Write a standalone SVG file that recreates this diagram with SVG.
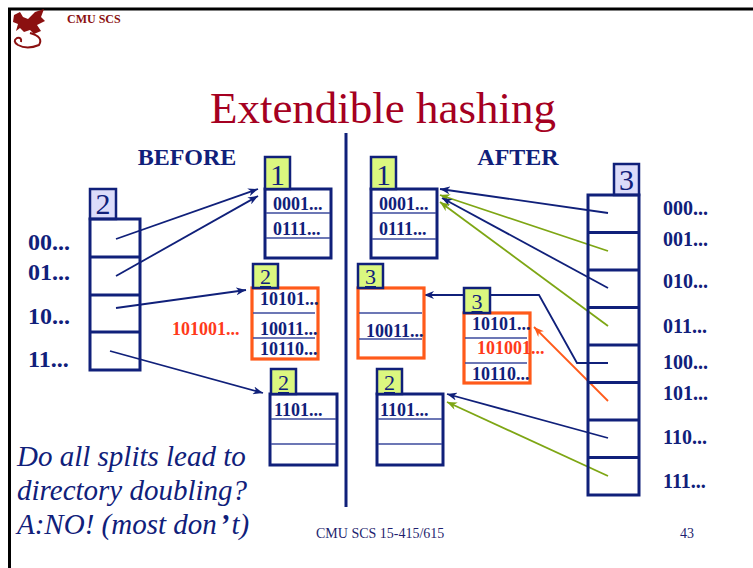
<svg xmlns="http://www.w3.org/2000/svg" width="753" height="568" viewBox="0 0 753 568">
<style>
.nv{stroke:#10207a;fill:none}
.box{stroke:#10207a;stroke-width:3;fill:#fff}
.obox{stroke:#ff5a1a;stroke-width:3.2;fill:#fff}
.gl{stroke:#10207a;stroke-width:2.5;fill:#dbf77f}
.ll{stroke:#10207a;stroke-width:2.5;fill:#dcdcfa}
.sep{stroke:#3b4a9c;stroke-width:1.5}
.div{stroke:#10207a;stroke-width:3}
.t{font-family:"Liberation Serif","Times New Roman",serif;fill:#10207a}
.b{font-weight:bold}
.bk{font-size:18px;font-weight:bold}
.dig{font-size:30px;text-anchor:middle}
.sdig{font-size:22px;text-anchor:middle;text-decoration:underline}
.red{fill:#ff3a1a}
.an{stroke:#10207a;stroke-width:1.8;fill:none}
.ag{stroke:#7ea614;stroke-width:1.8;fill:none}
.ao{stroke:#ff5a1a;stroke-width:1.8;fill:none}
</style>
<defs>
<marker id="mn" viewBox="0 0 10 8" refX="10" refY="4" markerWidth="10" markerHeight="8" markerUnits="userSpaceOnUse" orient="auto"><path d="M0,0 L10,4 L0,8 L3,4 z" fill="#10207a"/></marker>
<marker id="mg" viewBox="0 0 10 8" refX="10" refY="4" markerWidth="10" markerHeight="8" markerUnits="userSpaceOnUse" orient="auto"><path d="M0,0 L10,4 L0,8 L3,4 z" fill="#7ea614"/></marker>
<marker id="mo" viewBox="0 0 10 8" refX="10" refY="4" markerWidth="10" markerHeight="8" markerUnits="userSpaceOnUse" orient="auto"><path d="M0,0 L10,4 L0,8 L3,4 z" fill="#ff5a1a"/></marker>
</defs>
<rect width="753" height="568" fill="#fff"/>
<!-- frame -->
<line x1="8" y1="9" x2="753" y2="9" stroke="#000" stroke-width="3"/>
<line x1="9.5" y1="8" x2="9.5" y2="568" stroke="#000" stroke-width="3"/>
<!-- logo -->
<g id="logo" fill="#8b1010">
<path d="M14 15 L20 12 L23 17 L28 19 L35 12 L44 9 L41 17 L45 21 L37 25 L41 31 L34 34 L30 30 L24 32 L20 28 L16 31 L18 24 L13 22 Z"/>
<path d="M30 33 Q44 37 39 45 Q27 50 18 45 Q12 41 17 38 Q22 37 21 42" fill="none" stroke="#8b1010" stroke-width="2"/>
</g>
<text x="67" y="23" class="t b" style="font-size:12px;fill:#8b1010">CMU SCS</text>
<text x="383" y="123" class="t" style="font-size:45px;fill:#a50021;text-anchor:middle">Extendible hashing</text>
<text x="187" y="165" class="t b" style="font-size:24px;text-anchor:middle">BEFORE</text>
<text x="518" y="165" class="t b" style="font-size:24px;text-anchor:middle">AFTER</text>
<line x1="346" y1="133" x2="346" y2="507" class="div"/>

<g id="connectors">
<line x1="116" y1="239" x2="258" y2="189" class="an" marker-end="url(#mn)"/>
<line x1="116" y1="276" x2="258" y2="196" class="an" marker-end="url(#mn)"/>
<line x1="116" y1="308" x2="246" y2="290" class="an" marker-end="url(#mn)"/>
<line x1="110" y1="351" x2="263" y2="393" class="an" marker-end="url(#mn)"/>
<line x1="608" y1="213" x2="440" y2="189" class="an" marker-end="url(#mn)"/>
<line x1="608" y1="251" x2="440" y2="195" class="ag" marker-end="url(#mg)"/>
<line x1="608" y1="288" x2="442" y2="198" class="an" marker-end="url(#mn)"/>
<line x1="608" y1="326" x2="440" y2="202" class="ag" marker-end="url(#mg)"/>
<polyline points="608,363 577,363 539,295 424,295" class="an" marker-end="url(#mn)"/>
<line x1="608" y1="401" x2="534" y2="327" class="ao" marker-end="url(#mo)"/>
<line x1="608" y1="438" x2="447" y2="394" class="an" marker-end="url(#mn)"/>
<line x1="608" y1="476" x2="447" y2="402" class="ag" marker-end="url(#mg)"/>
</g>

<g id="dir-before">
<rect x="90" y="189" width="26" height="30" class="ll"/>
<text x="103" y="214" class="t dig">2</text>
<rect x="90" y="219" width="50" height="151" class="nv" style="stroke-width:3"/>
<line x1="90" y1="257" x2="140" y2="257" class="div"/>
<line x1="90" y1="295" x2="140" y2="295" class="div"/>
<line x1="90" y1="332" x2="140" y2="332" class="div"/>
<text x="28" y="250" class="t b" style="font-size:24px">00...</text>
<text x="28" y="280" class="t b" style="font-size:24px">01...</text>
<text x="28" y="324" class="t b" style="font-size:24px">10...</text>
<text x="28" y="367" class="t b" style="font-size:24px">11...</text>
</g>

<g id="bucket-b1">
<rect x="265" y="189" width="66" height="69" class="box"/>
<line x1="266" y1="213" x2="330" y2="213" class="sep"/>
<line x1="266" y1="238" x2="330" y2="238" class="sep"/>
<rect x="265" y="157" width="25" height="32" class="gl"/>
<text x="277.5" y="185" class="t dig">1</text>
<text x="273" y="210" class="t bk">0001...</text>
<text x="273" y="235" class="t bk">0111...</text>
</g>

<g id="bucket-b2">
<rect x="252" y="288" width="66" height="71" class="obox"/>
<line x1="253" y1="313" x2="315" y2="313" class="sep"/>
<line x1="253" y1="338" x2="315" y2="338" class="sep"/>
<rect x="253" y="264" width="25" height="24" class="gl"/>
<text x="265.5" y="284" class="t sdig">2</text>
<text x="260" y="305" class="t bk">10101...</text>
<text x="260" y="335" class="t bk">10011...</text>
<text x="260" y="355" class="t bk">10110...</text>
<text x="172" y="335" class="t b red" style="font-size:18px">101001...</text>
</g>

<g id="bucket-b3">
<rect x="270" y="394" width="67" height="71" class="box"/>
<line x1="271" y1="419" x2="336" y2="419" class="sep"/>
<line x1="271" y1="444" x2="336" y2="444" class="sep"/>
<rect x="271" y="369" width="25" height="25" class="gl"/>
<text x="283.5" y="390" class="t sdig">2</text>
<text x="274" y="416" class="t bk">1101...</text>
</g>

<g id="bucket-a1">
<rect x="371" y="189" width="66" height="69" class="box"/>
<line x1="372" y1="213" x2="436" y2="213" class="sep"/>
<line x1="372" y1="239" x2="436" y2="239" class="sep"/>
<rect x="371" y="157" width="25" height="32" class="gl"/>
<text x="383.5" y="185" class="t dig">1</text>
<text x="379" y="210" class="t bk">0001...</text>
<text x="379" y="235" class="t bk">0111...</text>
</g>

<g id="bucket-a2">
<rect x="358" y="288" width="66" height="70" class="obox"/>
<line x1="359" y1="313" x2="422" y2="313" class="sep"/>
<line x1="359" y1="339" x2="422" y2="339" class="sep"/>
<rect x="358" y="264" width="25" height="24" class="gl"/>
<text x="370.5" y="284" class="t sdig">3</text>
<text x="366" y="337" class="t bk">10011...</text>
</g>

<g id="bucket-a3">
<rect x="464" y="313" width="66" height="70" class="obox"/>
<line x1="465" y1="338" x2="527" y2="338" class="sep"/>
<line x1="465" y1="363" x2="527" y2="363" class="sep"/>
<rect x="464" y="288" width="26" height="25" class="gl"/>
<text x="477" y="309" class="t sdig">3</text>
<text x="472" y="330" class="t bk">10101...</text>
<text x="477" y="354" class="t b red" style="font-size:18px">101001...</text>
<text x="472" y="380" class="t bk">10110...</text>
</g>

<g id="bucket-a4">
<rect x="377" y="394" width="66" height="71" class="box"/>
<line x1="378" y1="419" x2="442" y2="419" class="sep"/>
<line x1="378" y1="444" x2="442" y2="444" class="sep"/>
<rect x="377" y="369" width="25" height="25" class="gl"/>
<text x="389.5" y="390" class="t sdig">2</text>
<text x="380" y="416" class="t bk">1101...</text>
</g>

<g id="dir-after">
<rect x="614" y="164" width="25" height="31" class="ll"/>
<text x="626.5" y="190" class="t dig">3</text>
<rect x="588" y="195" width="51" height="300" class="nv" style="stroke-width:3"/>
<line x1="588" y1="232.5" x2="639" y2="232.5" class="div"/>
<line x1="588" y1="270" x2="639" y2="270" class="div"/>
<line x1="588" y1="307.5" x2="639" y2="307.5" class="div"/>
<line x1="588" y1="345" x2="639" y2="345" class="div"/>
<line x1="588" y1="382.5" x2="639" y2="382.5" class="div"/>
<line x1="588" y1="420" x2="639" y2="420" class="div"/>
<line x1="588" y1="457.5" x2="639" y2="457.5" class="div"/>
<text x="663" y="215" class="t b" style="font-size:20px">000...</text>
<text x="663" y="246" class="t b" style="font-size:20px">001...</text>
<text x="663" y="288" class="t b" style="font-size:20px">010...</text>
<text x="663" y="333" class="t b" style="font-size:20px">011...</text>
<text x="663" y="369" class="t b" style="font-size:20px">100...</text>
<text x="663" y="400" class="t b" style="font-size:20px">101...</text>
<text x="663" y="444" class="t b" style="font-size:20px">110...</text>
<text x="663" y="488" class="t b" style="font-size:20px">111...</text>
</g>

<g id="question" class="t" style="font-size:29px;font-style:italic">
<text x="17" y="466">Do all splits lead to</text>
<text x="17" y="500">directory doubling?</text>
<text x="17" y="534">A:NO! (most don<tspan dx="3" style="font-weight:bold">’</tspan><tspan dx="2">t)</tspan></text>
</g>
<text x="316" y="538" class="t" style="font-size:14px;fill:#1f1f6f">CMU SCS 15-415/615</text>
<text x="680" y="538" class="t" style="font-size:14px;fill:#1f1f6f">43</text>
</svg>
